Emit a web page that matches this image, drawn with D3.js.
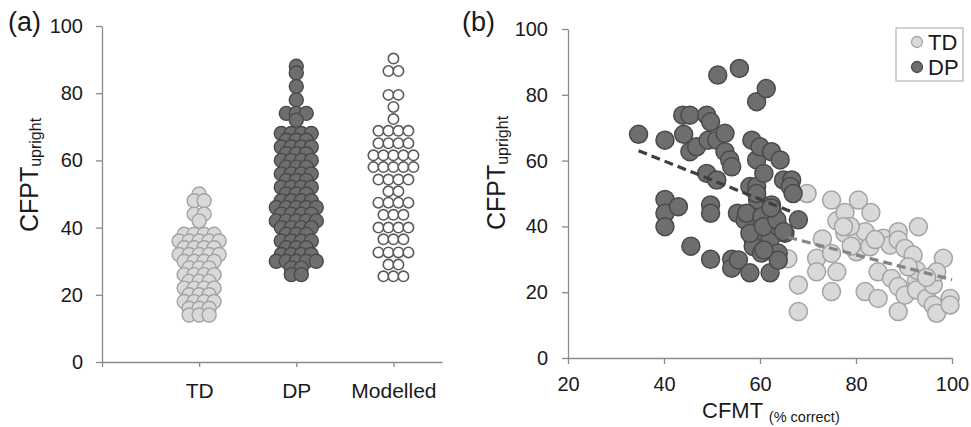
<!DOCTYPE html>
<html lang="en">
<head>
    <meta charset="UTF-8">
    <title>CFPT upright</title>
    <script src="https://d3js.org/d3.v7.min.js"></script>
    <style>
        body {margin: 0; background: #fff;}
        text {font-family: "Liberation Sans", Arial, sans-serif; fill: #1a1a1a;}
    </style>
</head>
<body>
<script>
    const width = 971;
    const height = 427;

    // panel (a): CFPT upright scores, one entry per dot
    const categories = ["TD", "DP", "Modelled"];
    const tdScores = [50, 48,48, 44,44, 42, 38,38,38,38, 36,36,36,36,36, 34,34,34,34, 32,32,32,32,32,
        30,30,30,30, 28,28,28, 26,26,26,26, 24,24,24, 22,22,22,22, 20,20,20, 18,18,18,18, 16,16,16, 14,14,14];
    const dpScores = [88, 86, 82, 78, 74,74,74, 72, 68,68,68,68, 66,66,66, 64,64,64,64, 62,62,62,
        60,60,60,60, 58,58,58, 56,56,56,56, 54,54,54, 52,52,52,52, 50,50,50, 48,48,48,48,
        46,46,46,46,46, 44,44,44,44, 42,42,42,42,42, 40,40,40,40, 38,38,38, 36,36,36,36,
        34,34,34, 32,32,32,32, 30,30,30,30,30, 28,28, 26,26];
    const modelledScores = [90.3, 86.6,86.6, 79.5,79.5, 75.9, 72.3, 68.8,68.8,68.8,68.8, 65.1,65.1,65.1,65.1,
        61.5,61.5,61.5,61.5,61.5, 58,58,58,58,58, 54.3,54.3,54.3,54.3, 50.8,50.8, 47.4,47.4,47.4,47.4,
        43.8,43.8,43.8, 40,40,40,40, 36.5,36.5,36.5, 32.6,32.6,32.6,32.6, 29,29, 25.5,25.5,25.5];
    const yTicks = [0, 20, 40, 60, 80, 100];

    // panel (b): [CFMT % correct, CFPT upright]
    const tdPoints = [[68.0,22.2],[68.0,14.1],[65.8,30.2],[69.8,50.0],[71.8,30.3],[73.0,36.2],[71.8,26.2],
        [74.9,31.8],[74.9,48.0],[76.0,41.7],[77.7,44.2],[77.7,37.9],[76.0,26.2],[74.9,20.2],[80.5,48.0],
        [83.1,44.2],[80.1,35.9],[80.1,32.3],[81.9,38.4],[82.9,33.8],[85.7,36.4],[87.1,34.3],[88.8,38.4],
        [88.8,35.9],[90.2,33.3],[91.9,31.3],[93.0,39.9],[98.2,30.3],[84.6,26.2],[81.9,20.2],[84.6,18.1],
        [87.4,24.2],[88.8,21.7],[90.2,19.1],[88.8,14.1],[92.6,23.7],[92.6,20.7],[94.7,18.1],[96.1,16.1],
        [96.8,13.6],[99.6,18.1],[99.6,16.1],[96.1,22.2],[96.8,26.2],[92.6,26.7],[94.7,24.5],[90.9,27.7],
        [78.8,40.0],[84.0,36.0],[79.0,34.0],[77.4,39.9]];
    const dpPoints = [[34.7,68.0],[40.2,66.2],[40.2,48.2],[40.2,44.0],[40.2,39.9],[43.0,46.0],[43.9,73.8],
        [45.4,73.8],[44.1,68.0],[45.4,62.7],[46.8,64.2],[45.6,34.0],[48.9,73.8],[49.7,71.8],[49.2,66.2],
        [48.9,56.1],[49.7,46.5],[49.7,44.0],[49.7,30.0],[51.2,86.0],[51.0,66.2],[52.7,68.3],[51.0,54.1],
        [52.7,62.7],[53.7,60.2],[54.1,58.1],[55.7,88.0],[54.1,30.0],[54.1,27.3],[55.5,29.8],[55.3,44.0],
        [56.9,41.9],[57.9,25.9],[58.3,66.2],[57.9,52.1],[58.6,35.9],[59.3,77.9],[61.3,81.9],[59.3,60.2],
        [60.0,64.2],[59.3,52.1],[59.5,48.0],[60.8,56.1],[62.4,62.7],[64.2,60.2],[62.4,46.5],[62.1,25.9],
        [61.0,39.9],[62.1,35.9],[63.8,31.9],[63.8,39.9],[64.9,54.1],[66.6,54.1],[66.3,52.1],[68.0,42.0],
        [58.6,33.9],[60.3,31.9],[65.2,37.9],[62.6,44.0],[57.2,44.0],[60.4,43.0],[66.9,50.0],[63.8,29.7],
        [57.9,37.9],[60.7,39.9],[63.5,42.0],[60.8,32.8],[62.3,45.6],[64.9,38.4],[59.3,50.0]];
    const tdTrend = [[65.9,36.7],[100,23.8]];
    const dpTrend = [[34.7,63.0],[67.3,44.0]];
    const xTicksB = [20, 40, 60, 80, 100];

    const axisColor = "#8a8a8a";
    const tdFill = "#d9d9d9", tdStroke = "#a3a3a3";
    const dpFill = "#6e6e6e", dpStroke = "#4a4a4a";

    const svg = d3.select("body").append("svg")
            .attr("width", width).attr("height", height);
    svg.append("rect").attr("width", width).attr("height", height).attr("fill", "#fff");

    function styleAxis(g, fontSize) {
        g.select(".domain").attr("stroke", axisColor).attr("stroke-width", 1.3);
        g.selectAll(".tick line").attr("stroke", axisColor).attr("stroke-width", 1.3);
        g.selectAll("text").style("font-size", fontSize + "px").attr("fill", "#1a1a1a")
                .style("font-family", '"Liberation Sans", Arial, sans-serif');
    }

    function yLabel(x, y) {
        const t = svg.append("text")
                .attr("transform", `translate(${x},${y}) rotate(-90)`)
                .attr("text-anchor", "middle")
                .style("font-size", "25px");
        t.append("tspan").text("CFPT");
        t.append("tspan").attr("dy", 3).style("font-size", "16px").text("upright");
    }

    // ---------- panel (a) ----------
    const ya = d3.scaleLinear().domain([0, 100]).range([362, 26]);
    const xa = d3.scaleLinear().domain([0, 3.5]).range([102, 442]);

    svg.append("g").attr("transform", "translate(102,0)")
            .call(d3.axisLeft(ya).tickValues(yTicks).tickSize(6).tickPadding(13).tickSizeOuter(0))
            .call(g => styleAxis(g, 20));

    svg.append("g").attr("transform", "translate(0,362)")
            .call(d3.axisBottom(xa).tickValues([0, 1, 2, 3]).tickSize(5).tickSizeOuter(0)
                    .tickFormat(i => i === 0 ? "" : categories[i - 1]))
            .call(g => styleAxis(g, 21))
            .call(g => g.selectAll("text").attr("y", 36).attr("dy", 0));

    // lay out a dot plot: equal scores sit side by side, centred on the category
    function dotLayout(scores, spacing) {
        const groups = d3.groups(scores, d => d).sort((a, b) => b[0] - a[0]);
        const out = [];
        groups.forEach(([v, arr]) => {
            arr.forEach((d, i) => out.push({value: v, offset: (i - (arr.length - 1) / 2) * spacing}));
        });
        return out;
    }

    const columns = [
        {scores: tdScores, r: 7, fill: tdFill, stroke: tdStroke, sw: 1.4},
        {scores: dpScores, r: 7, fill: dpFill, stroke: dpStroke, sw: 1.4},
        {scores: modelledScores, r: 5.2, fill: "#fff", stroke: "#5a5a5a", sw: 1.6}
    ];
    columns.forEach((c, ci) => {
        svg.append("g").attr("class", "column")
                .selectAll("circle")
                .data(dotLayout(c.scores, 10))
                .enter().append("circle")
                .attr("cx", d => xa(ci + 1) + d.offset)
                .attr("cy", d => ya(d.value))
                .attr("r", c.r)
                .style("fill", c.fill)
                .style("stroke", c.stroke)
                .style("stroke-width", c.sw);
    });

    yLabel(38, 175);
    svg.append("text").attr("x", 8).attr("y", 31).style("font-size", "27px").text("(a)");

    // ---------- panel (b) ----------
    const xb = d3.scaleLinear().domain([20, 100]).range([568, 952]);
    const yb = d3.scaleLinear().domain([0, 100]).range([358, 29]);

    svg.append("g").attr("transform", "translate(568,0)")
            .call(d3.axisLeft(yb).tickValues(yTicks).tickSize(6).tickPadding(14).tickSizeOuter(0))
            .call(g => styleAxis(g, 20));

    svg.append("g").attr("transform", "translate(0,358)")
            .call(d3.axisBottom(xb).tickValues(xTicksB).tickSize(6).tickSizeOuter(0))
            .call(g => styleAxis(g, 20))
            .call(g => g.selectAll("text").attr("y", 33).attr("dy", 0));

    function drawPoints(data, fill, stroke) {
        svg.append("g")
                .selectAll("circle")
                .data(data)
                .enter().append("circle")
                .attr("cx", d => xb(d[0]))
                .attr("cy", d => yb(d[1]))
                .attr("r", 9)
                .style("fill", fill)
                .style("stroke", stroke)
                .style("stroke-width", 1.5);
    }
    drawPoints(tdPoints, tdFill, tdStroke);
    drawPoints(dpPoints, dpFill, dpStroke);

    const trendLine = d3.line().x(d => xb(d[0])).y(d => yb(d[1]));
    svg.append("path").datum(dpTrend).attr("d", trendLine)
            .style("fill", "none").style("stroke", "#3f3f3f")
            .style("stroke-width", 3.2).style("stroke-dasharray", "9,5");
    svg.append("path").datum(tdTrend).attr("d", trendLine)
            .style("fill", "none").style("stroke", "#858585")
            .style("stroke-width", 3.2).style("stroke-dasharray", "9,5");

    yLabel(505, 173);
    svg.append("text").attr("x", 462).attr("y", 31).style("font-size", "27px").text("(b)");

    const xl = svg.append("text").attr("x", 702).attr("y", 418).style("font-size", "22px");
    xl.append("tspan").text("CFMT ");
    xl.append("tspan").attr("dy", 4).style("font-size", "14.5px").text("(% correct)");

    // legend
    const legend = svg.append("g").attr("class", "legend");
    legend.append("rect").attr("x", 896).attr("y", 28).attr("width", 67).attr("height", 53)
            .style("fill", "#fff").style("stroke", "#b3b3b3").style("stroke-width", 1.2);
    const items = [["TD", tdFill, tdStroke], ["DP", dpFill, dpStroke]];
    items.forEach(([name, fill, stroke], i) => {
        legend.append("circle").attr("cx", 917).attr("cy", 42 + i * 25).attr("r", 5.5)
                .style("fill", fill).style("stroke", stroke).style("stroke-width", 1.3);
        legend.append("text").attr("x", 928).attr("y", 50 + i * 25)
                .style("font-size", "22px").text(name);
    });
</script>
</body>
</html>
